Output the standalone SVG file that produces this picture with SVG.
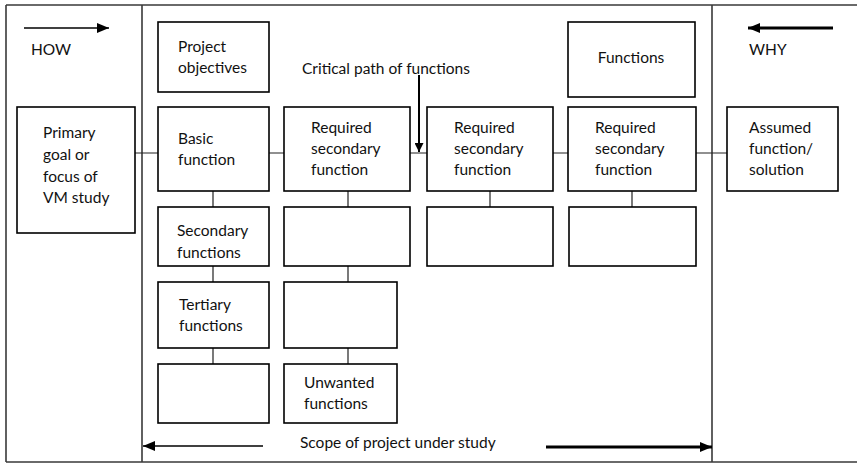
<svg xmlns="http://www.w3.org/2000/svg" width="857" height="463" viewBox="0 0 857 463">
  <defs>
    <style>
      .frame { fill: none; stroke: #3a3a3a; stroke-width: 1.6; }
      .box { fill: #fff; stroke: #000; stroke-width: 1.6; }
      .link { fill: none; stroke: #222; stroke-width: 1.2; }
      .lbl { font-family: Lato, "Liberation Sans", sans-serif; font-size: 15.5px; fill: #111; }
      .arr-thin { stroke: #000; stroke-width: 1.6; fill: none; }
      .arr-thick { stroke: #000; stroke-width: 3; fill: none; }
    </style>
    <marker id="head" viewBox="0 0 12 10" refX="12" refY="5" markerWidth="12" markerHeight="10" markerUnits="userSpaceOnUse" orient="auto">
      <path d="M0,0 L12,5 L0,10 Z" fill="#000"/>
    </marker>
    <marker id="head-s" viewBox="0 0 9 9" refX="9" refY="4.5" markerWidth="9" markerHeight="9" markerUnits="userSpaceOnUse" orient="auto">
      <path d="M0,0 L9,4.5 L0,9 Z" fill="#000"/>
    </marker>
  </defs>
  <rect width="857" height="463" fill="#fff"/>

  <!-- outer frame and zone dividers -->
  <g id="frame">
    <path class="frame" d="M6,5 H857 M6,5 V462 M6,462 H857"/>
    <path class="frame" d="M142,5 V462 M712,5 V462"/>
  </g>

  <!-- direction arrows and labels -->
  <g id="how">
    <line class="arr-thin" x1="24" y1="28" x2="109" y2="28" marker-end="url(#head)"/>
    <text class="lbl" x="31" y="55">HOW</text>
  </g>
  <g id="why">
    <line class="arr-thick" x1="833" y1="28" x2="748" y2="28" marker-end="url(#head)"/>
    <text class="lbl" x="749" y="55">WHY</text>
  </g>
  <g id="scope">
    <line class="arr-thin" x1="263" y1="446" x2="143" y2="446" marker-end="url(#head)"/>
    <text class="lbl" x="300" y="448">Scope of project under study</text>
    <line class="arr-thick" x1="546" y1="447" x2="712" y2="447" marker-end="url(#head)"/>
  </g>
  <g id="critical-path">
    <text class="lbl" x="302" y="74">Critical path of functions</text>
    <line stroke="#000" stroke-width="2" x1="419" y1="75" x2="419" y2="152" marker-end="url(#head-s)"/>
  </g>

  <!-- connectors -->
  <g id="connectors">
    <path class="link" d="M135,153 H158 M269,153 H284 M410,153 H427 M553,153 H568 M696,153 H727"/>
    <path class="link" d="M213,191 V207 M348,191 V207 M490,191 V207 M632,191 V207"/>
    <path class="link" d="M213,266 V282 M348,266 V282 M213,348 V364 M348,348 V364"/>
  </g>

  <!-- nodes -->
  <g id="project-objectives">
    <rect class="box" x="158" y="22" width="111" height="70"/>
    <text class="lbl" x="178" y="52">Project</text>
    <text class="lbl" x="178" y="73">objectives</text>
  </g>
  <g id="functions">
    <rect class="box" x="568" y="22" width="127" height="75"/>
    <text class="lbl" x="631" y="63" text-anchor="middle">Functions</text>
  </g>
  <g id="primary-goal">
    <rect class="box" x="17" y="107" width="118" height="126"/>
    <text class="lbl" x="43" y="138">Primary</text>
    <text class="lbl" x="43" y="160">goal or</text>
    <text class="lbl" x="43" y="182">focus of</text>
    <text class="lbl" x="43" y="203">VM study</text>
  </g>
  <g id="basic-function">
    <rect class="box" x="158" y="107" width="111" height="84"/>
    <text class="lbl" x="178" y="144">Basic</text>
    <text class="lbl" x="178" y="165">function</text>
  </g>
  <g id="required-secondary-1">
    <rect class="box" x="284" y="107" width="126" height="84"/>
    <text class="lbl" x="311" y="133">Required</text>
    <text class="lbl" x="311" y="154">secondary</text>
    <text class="lbl" x="311" y="175">function</text>
  </g>
  <g id="required-secondary-2">
    <rect class="box" x="427" y="107" width="126" height="84"/>
    <text class="lbl" x="454" y="133">Required</text>
    <text class="lbl" x="454" y="154">secondary</text>
    <text class="lbl" x="454" y="175">function</text>
  </g>
  <g id="required-secondary-3">
    <rect class="box" x="568" y="107" width="128" height="84"/>
    <text class="lbl" x="595" y="133">Required</text>
    <text class="lbl" x="595" y="154">secondary</text>
    <text class="lbl" x="595" y="175">function</text>
  </g>
  <g id="assumed-function">
    <rect class="box" x="727" y="107" width="111" height="84"/>
    <text class="lbl" x="749" y="133">Assumed</text>
    <text class="lbl" x="749" y="154">function/</text>
    <text class="lbl" x="749" y="175">solution</text>
  </g>
  <g id="secondary-functions">
    <rect class="box" x="158" y="207" width="111" height="59"/>
    <text class="lbl" x="177" y="236">Secondary</text>
    <text class="lbl" x="177" y="258">functions</text>
  </g>
  <g id="blank-2-1">
    <rect class="box" x="284" y="207" width="126" height="59"/>
  </g>
  <g id="blank-2-2">
    <rect class="box" x="427" y="207" width="126" height="59"/>
  </g>
  <g id="blank-2-3">
    <rect class="box" x="569" y="207" width="127" height="59"/>
  </g>
  <g id="tertiary-functions">
    <rect class="box" x="158" y="282" width="111" height="66"/>
    <text class="lbl" x="179" y="310">Tertiary</text>
    <text class="lbl" x="179" y="331">functions</text>
  </g>
  <g id="blank-3-1">
    <rect class="box" x="284" y="282" width="113" height="66"/>
  </g>
  <g id="blank-4-0">
    <rect class="box" x="158" y="364" width="111" height="59"/>
  </g>
  <g id="unwanted-functions">
    <rect class="box" x="284" y="364" width="113" height="59"/>
    <text class="lbl" x="304" y="388">Unwanted</text>
    <text class="lbl" x="304" y="409">functions</text>
  </g>
</svg>
